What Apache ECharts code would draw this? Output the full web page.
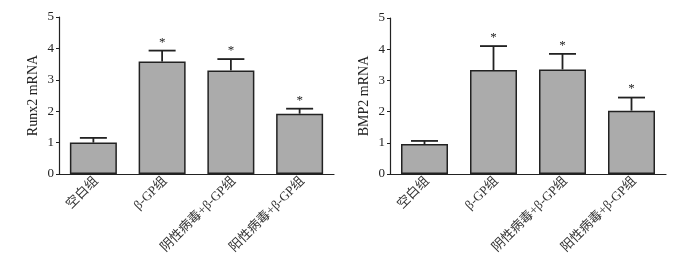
<!DOCTYPE html>
<html><head><meta charset="utf-8">
<script src="https://cdn.jsdelivr.net/npm/echarts@6/dist/echarts.min.js"></script>
<style>html,body{margin:0;padding:0;background:#fff}#c{width:700px;height:253px}</style>
</head><body><div id="c"></div>
<script>
var categories = ['空白组', 'β-GP组', '阴性病毒+β-GP组', '阳性病毒+β-GP组'];
var runx2Mean = [1.0, 3.58, 3.3, 1.92];
var runx2Err = [0.15, 0.35, 0.36, 0.16];
var runx2Sig = ['', '*', '*', '*'];
var bmp2Mean = [0.96, 3.33, 3.35, 2.03];
var bmp2Err = [0.1, 0.77, 0.5, 0.42];
var bmp2Sig = ['', '*', '*', '*'];
var yTicks = [0, 1, 2, 3, 4, 5];

var serif = '"Liberation Serif","DejaVu Serif",serif';
var cjk = '"Liberation Serif","Noto Sans CJK SC",serif';

function errSeries(idx, mean, err, sig) {
  return {
    type: 'custom', xAxisIndex: idx, yAxisIndex: idx, z: 5,
    data: mean.map(function (m, i) { return [i, m, err[i]]; }),
    renderItem: function (params, api) {
      var i = api.value(0), m = api.value(1), e = api.value(2);
      var b = api.coord([i, m]);
      var t = api.coord([i, m + e]);
      var half = 13.5;
      var st = { stroke: '#222', lineWidth: 1.8 };
      return {
        type: 'group',
        children: [
          { type: 'line', shape: { x1: b[0], y1: b[1], x2: t[0], y2: t[1] }, style: st },
          { type: 'line', shape: { x1: t[0] - half, y1: t[1], x2: t[0] + half, y2: t[1] }, style: st },
          { type: 'text', style: { text: sig[params.dataIndex], x: t[0], y: t[1] - 2, align: 'center', verticalAlign: 'bottom', font: '13px ' + serif, fill: '#222' } }
        ]
      };
    }
  };
}

function yAxis(idx, name) {
  return {
    type: 'value', gridIndex: idx, min: 0, max: 5, interval: 1,
    name: name, nameLocation: 'middle', nameGap: 19,
    nameTextStyle: { fontFamily: serif, fontSize: 14, color: '#222' },
    axisLine: { show: true, lineStyle: { color: '#222', width: 1.2 } },
    axisTick: { show: true, length: 3, lineStyle: { color: '#222' } },
    axisLabel: { fontFamily: serif, fontSize: 13, color: '#222', margin: 5,
      formatter: function (v) { return yTicks.indexOf(v) >= 0 ? String(v) : ''; } },
    splitLine: { show: false }
  };
}

function xAxis(idx) {
  return {
    type: 'category', gridIndex: idx, data: categories,
    axisLine: { show: true, lineStyle: { color: '#222', width: 1.2 } },
    axisTick: { show: false },
    axisLabel: { interval: 0, rotate: 45, fontFamily: cjk, fontSize: 13, color: '#333', margin: 8,
      padding: [16, -4, 0, 0] }
  };
}

function barSeries(idx, mean) {
  return {
    type: 'bar', xAxisIndex: idx, yAxisIndex: idx, data: mean, barWidth: 47,
    itemStyle: { color: '#ababab', borderColor: '#222', borderWidth: 1.5 }
  };
}

var chart = echarts.init(document.getElementById('c'));
chart.setOption({
  animation: false,
  backgroundColor: '#fff',
  grid: [
    { left: 59, width: 275, top: 17, height: 157, containLabel: false, outerBoundsMode: 'none' },
    { left: 390, width: 276, top: 18, height: 156, containLabel: false, outerBoundsMode: 'none' }
  ],
  xAxis: [xAxis(0), xAxis(1)],
  yAxis: [yAxis(0, 'Runx2 mRNA'), yAxis(1, 'BMP2 mRNA')],
  series: [
    barSeries(0, runx2Mean), errSeries(0, runx2Mean, runx2Err, runx2Sig),
    barSeries(1, bmp2Mean), errSeries(1, bmp2Mean, bmp2Err, bmp2Sig)
  ]
});
</script>
</body></html>
